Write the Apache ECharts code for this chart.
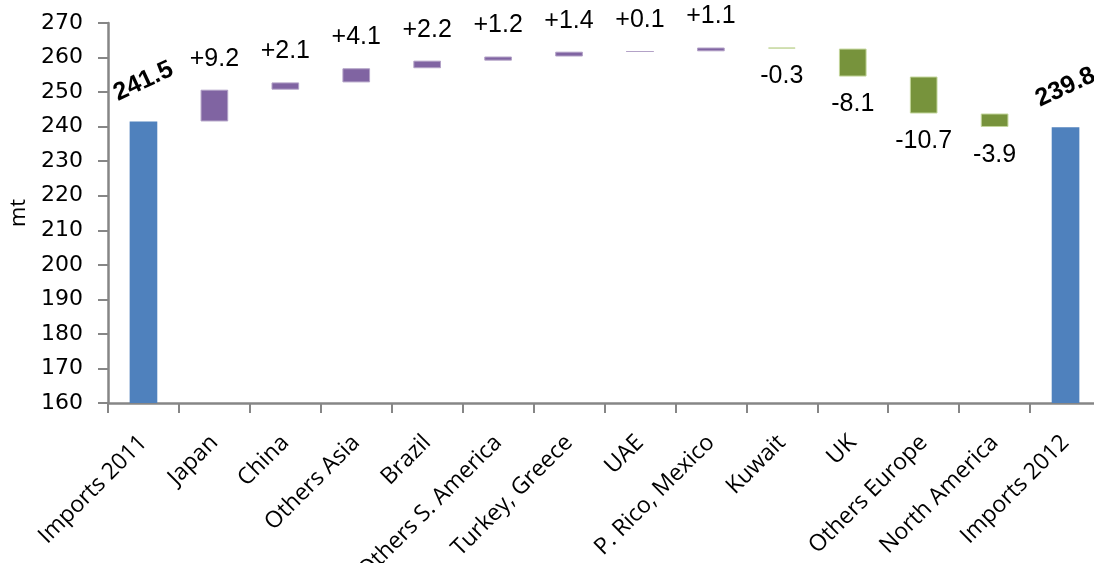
<!DOCTYPE html>
<html>
<head>
<meta charset="utf-8">
<script src="https://cdn.jsdelivr.net/npm/echarts@6/dist/echarts.min.js"></script>
<style>
  html, body { margin: 0; padding: 0; background: #fff; }
  #chart { width: 1094px; height: 563px; }
</style>
</head>
<body>
<div id="chart"></div>
<script>
// 数据
const categories = ['Imports 2011', 'Japan', 'China', 'Others Asia', 'Brazil', 'Others S. America',
  'Turkey, Greece', 'UAE', 'P. Rico, Mexico', 'Kuwait', 'UK', 'Others Europe', 'North America', 'Imports 2012']
const total2011 = 241.5
const total2012 = 239.8
// 各地区变化量 (首尾为总量)
const deltas = [null, 9.2, 2.1, 4.1, 2.2, 1.2, 1.4, 0.1, 1.1, -0.3, -8.1, -10.7, -3.9, null]
const yTicks = {min: 160, max: 270, interval: 10}

// 整理瀑布图的堆叠数据
let baseData = []
let upData = []
let downData = []
let totalData = []
let running = total2011
deltas.forEach((d, i) => {
  if (d === null) {
    baseData.push('-')
    upData.push('-')
    downData.push('-')
    totalData.push(i === 0 ? total2011 : total2012)
    return
  }
  const next = running + d
  baseData.push(Math.min(running, next))
  upData.push(d > 0 ? d : '-')
  downData.push(d < 0 ? -d : '-')
  totalData.push('-')
  running = next
})

const fmtDelta = p => {
  const d = deltas[p.dataIndex]
  return d > 0 ? '+' + d.toFixed(1) : d.toFixed(1)
}

const labelFont = {
  fontFamily: 'Liberation Sans',
  fontSize: 25,
  color: '#000'
}

const option = {
  animation: false,
  grid: {
    left: 108,
    top: 23,
    width: 993,
    height: 380,
    containLabel: false,
    outerBoundsMode: 'none'
  },
  xAxis: {
    type: 'category',
    data: categories,
    axisLine: {lineStyle: {color: '#868686', width: 2.5}},
    axisTick: {show: true, length: 10, lineStyle: {color: '#868686', width: 2}},
    axisLabel: {
      interval: 0,
      rotate: 45,
      margin: 36,
      verticalAlign: 'middle',
      fontFamily: 'Open Sans',
      fontSize: 23,
      color: '#000'
    }
  },
  yAxis: {
    type: 'value',
    min: yTicks.min,
    max: yTicks.max,
    interval: yTicks.interval,
    name: 'mt',
    nameLocation: 'middle',
    nameGap: 77,
    nameRotate: 90,
    nameTextStyle: {fontFamily: 'Open Sans', fontSize: 22, color: '#000'},
    splitLine: {show: false},
    axisLine: {show: true, lineStyle: {color: '#868686', width: 2.5}},
    axisTick: {show: true, length: 10, lineStyle: {color: '#868686', width: 2}},
    axisLabel: {
      margin: 25,
      fontFamily: 'DejaVu Sans',
      fontSize: 22,
      color: '#000'
    }
  },
  series: [
    {
      name: 'base',
      type: 'bar',
      stack: 'w',
      barWidth: '39%',
      itemStyle: {color: 'transparent'},
      silent: true,
      data: baseData
    },
    {
      name: 'up',
      type: 'bar',
      stack: 'w',
      itemStyle: {color: '#8064A2', borderColor: '#B3A2C7', borderWidth: 1},
      label: Object.assign({
        show: true,
        position: 'top',
        distance: 31,
        verticalAlign: 'middle',
        formatter: fmtDelta
      }, labelFont),
      data: upData
    },
    {
      name: 'down',
      type: 'bar',
      stack: 'w',
      itemStyle: {color: '#77933C', borderColor: '#C3D69B', borderWidth: 1},
      label: Object.assign({
        show: true,
        position: 'bottom',
        distance: 28,
        verticalAlign: 'middle',
        formatter: fmtDelta
      }, labelFont),
      data: downData
    },
    {
      name: 'total',
      type: 'bar',
      stack: 'w',
      itemStyle: {color: '#4F81BD'},
      label: Object.assign({
        show: true,
        position: 'top',
        distance: 40,
        verticalAlign: 'middle',
        rotate: 25,
        fontWeight: 'bold',
        formatter: p => p.value.toFixed(1)
      }, labelFont),
      data: totalData
    }
  ]
}

const chart = echarts.init(document.getElementById('chart'))
chart.setOption(option)
</script>
</body>
</html>
